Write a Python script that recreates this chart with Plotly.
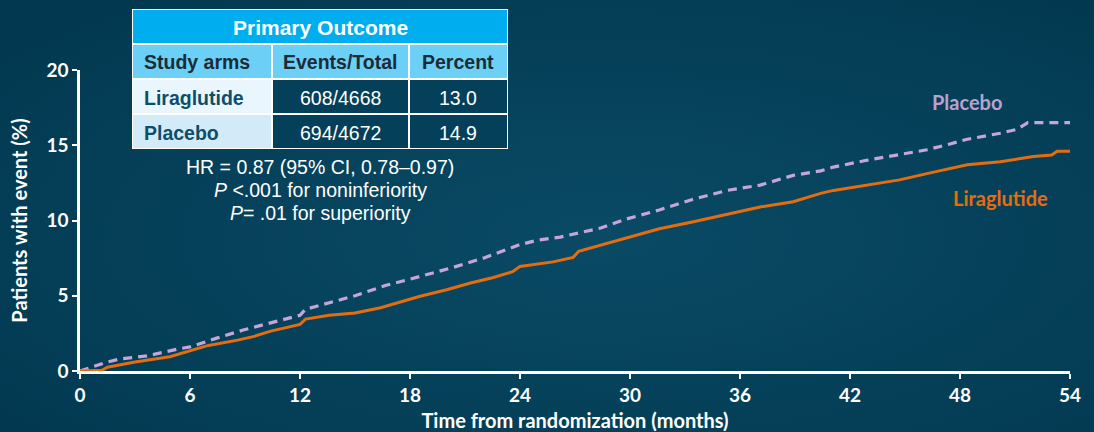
import base64
import plotly.graph_objects as go

# Cumulative incidence (%) by month since randomization
lira_months = [0, 1.2, 1.5, 3.0, 4.9, 6.0, 7.0, 8.6, 9.5, 10.4, 11.6, 12.0, 12.3, 13.6, 15.0,
               16.4, 18.5, 20.0, 21.3, 22.5, 23.6, 24.0, 25.8, 26.9, 27.2, 28.5, 29.8, 31.6,
               33.4, 35.3, 37.1, 38.9, 40.4, 41.1, 42.9, 44.7, 46.5, 48.4, 50.2, 52.0, 53.0,
               53.3, 54.0]
lira_pct = [0, 0.05, 0.25, 0.6, 0.95, 1.35, 1.7, 2.05, 2.3, 2.65, 3.0, 3.1, 3.45, 3.7, 3.85,
            4.2, 4.95, 5.4, 5.85, 6.2, 6.6, 6.95, 7.25, 7.55, 7.95, 8.4, 8.8, 9.45,
            9.9, 10.4, 10.9, 11.25, 11.8, 12.0, 12.35, 12.7, 13.2, 13.7, 13.9, 14.25, 14.35,
            14.6, 14.6]

placebo_months = [0, 0.7, 1.5, 2.2, 3.65, 5.3, 6.0, 7.5, 8.9, 10.4, 11.6, 12.0, 12.3, 13.3,
                  15.0, 16.7, 18.0, 20.4, 22.0, 24.0, 25.0, 26.2, 27.3, 28.4, 29.8, 31.6,
                  33.4, 35.3, 37.1, 38.9, 40.4, 41.1, 42.9, 44.7, 46.2, 47.5, 48.4, 50.2,
                  51.1, 51.7, 54.0]
placebo_pct = [0, 0.27, 0.6, 0.8, 1.0, 1.45, 1.6, 2.2, 2.72, 3.2, 3.6, 3.7, 4.1, 4.45,
               5.0, 5.7, 6.1, 6.9, 7.5, 8.4, 8.7, 8.9, 9.2, 9.5, 10.1, 10.7,
               11.4, 12.0, 12.35, 13.0, 13.3, 13.55, 14.0, 14.4, 14.7, 15.1, 15.4, 15.8,
               16.05, 16.5, 16.5]

x_ticks = [0, 6, 12, 18, 24, 30, 36, 42, 48, 54]
y_ticks = [0, 5, 10, 15, 20]

# Summary table contents
arms = ["Liraglutide", "Placebo"]
events = [608, 694]
totals = [4668, 4672]
percents = [13.0, 14.9]
table_title = "Primary Outcome"
col_headers = ["Study arms", "Events/Total", "Percent"]
stats_lines = ["HR = 0.87 (95% CI, 0.78–0.97)",
               "<i>P</i> <.001 for noninferiority",
               "<i>P</i>= .01 for superiority"]

ORANGE = "#e56d0f"
LAVENDER = "#c6a6d8"
BG = "#044059"
WHITE = "#ffffff"

W, H = 1094, 432
ML, MR, MT, MB = 80, 24, 70, 61
PW, PH = W - ML - MR, H - MT - MB


def px_x(px):
    return (px - ML) / PW


def px_y(py):
    return (H - MB - py) / PH


fig = go.Figure()
fig.add_trace(go.Scatter(x=placebo_months, y=placebo_pct, mode="lines", name="Placebo",
                         line=dict(color=LAVENDER, width=3.2, dash="9px,6px")))
fig.add_trace(go.Scatter(x=lira_months, y=lira_pct, mode="lines", name="Liraglutide",
                         line=dict(color=ORANGE, width=3)))

# Soft radial background
svg = f"""<svg xmlns='http://www.w3.org/2000/svg' width='{W}' height='{H}'>
<defs><radialGradient id='g' cx='55%' cy='55%' r='70%'>
<stop offset='0%' stop-color='#0a4a65'/><stop offset='100%' stop-color='#023951'/>
</radialGradient></defs><rect width='100%' height='100%' fill='url(#g)'/></svg>"""
src = "data:image/svg+xml;base64," + base64.b64encode(svg.encode()).decode()

shapes = []
annotations = []
TFONT = "Liberation Sans"

# Table geometry (pixels)
tx0, tx1 = 133, 507
cols = [133, 272, 409, 507]
rows = [(10, 43), (45, 78), (80, 113), (115, 148)]
label_fills = ["#eaf6fd", "#d3ebf8"]

shapes.append(dict(type="rect", xref="paper", yref="paper", x0=px_x(tx0 - 1), x1=px_x(tx1 + 1),
                   y0=px_y(149), y1=px_y(9), fillcolor=WHITE, line=dict(width=0), layer="above"))
shapes.append(dict(type="rect", xref="paper", yref="paper", x0=px_x(tx0), x1=px_x(tx1),
                   y0=px_y(rows[0][1]), y1=px_y(rows[0][0]), fillcolor="#00adee",
                   line=dict(width=0), layer="above"))
annotations.append(dict(xref="paper", yref="paper", x=px_x((tx0 + tx1) / 2), y=px_y(27),
                        text=f"<b>{table_title}</b>", showarrow=False, xanchor="center",
                        yanchor="middle", font=dict(family=TFONT, size=21, color=WHITE)))
for ci, head in enumerate(col_headers):
    shapes.append(dict(type="rect", xref="paper", yref="paper", x0=px_x(cols[ci] + (0 if ci == 0 else 1)),
                       x1=px_x(cols[ci + 1] - (0 if ci == 2 else 1)), y0=px_y(rows[1][1]),
                       y1=px_y(rows[1][0]), fillcolor="#6ccff5", line=dict(width=0), layer="above"))
    cx = cols[0] + 9 if ci == 0 else (cols[ci] + cols[ci + 1]) / 2
    annotations.append(dict(xref="paper", yref="paper", x=px_x(cx), y=px_y(62),
                            text=f"<b>{head}</b>", showarrow=False,
                            xanchor="left" if ci == 0 else "center", yanchor="middle",
                            font=dict(family=TFONT, size=19.5, color="#1b2c36")))
for ri, arm in enumerate(arms):
    r0, r1 = rows[2 + ri]
    cy = (r0 + r1) / 2 + 1
    cells = [arm, f"{events[ri]}/{totals[ri]}", f"{percents[ri]:.1f}"]
    for ci, txt in enumerate(cells):
        fill = label_fills[ri] if ci == 0 else BG
        shapes.append(dict(type="rect", xref="paper", yref="paper",
                           x0=px_x(cols[ci] + (0 if ci == 0 else 1)),
                           x1=px_x(cols[ci + 1] - (0 if ci == 2 else 1)),
                           y0=px_y(r1), y1=px_y(r0), fillcolor=fill, line=dict(width=0), layer="above"))
        if ci == 0:
            annotations.append(dict(xref="paper", yref="paper", x=px_x(cols[0] + 9), y=px_y(cy),
                                    text=f"<b>{txt}</b>", showarrow=False, xanchor="left",
                                    yanchor="middle",
                                    font=dict(family=TFONT, size=19.5, color="#0d4e6b")))
        else:
            annotations.append(dict(xref="paper", yref="paper", x=px_x((cols[ci] + cols[ci + 1]) / 2),
                                    y=px_y(cy), text=txt, showarrow=False, xanchor="center",
                                    yanchor="middle",
                                    font=dict(family=TFONT, size=19.5, color=WHITE)))

for i, line in enumerate(stats_lines):
    annotations.append(dict(xref="paper", yref="paper", x=px_x(320), y=px_y(167 + 23 * i),
                            text=line, showarrow=False, xanchor="center", yanchor="middle",
                            font=dict(family=TFONT, size=19.5, color=WHITE)))

# Series labels
annotations.append(dict(x=48.4, y=17.9, text="<b>Placebo</b>", showarrow=False,
                        xanchor="center", yanchor="middle",
                        font=dict(family="Lato", size=20, color="#b9a2d0")))
annotations.append(dict(x=50.2, y=11.5, text="<b>Liraglutide</b>", showarrow=False,
                        xanchor="center", yanchor="middle",
                        font=dict(family="Lato", size=20, color=ORANGE)))

axis_font = dict(family="Lato", size=19, color=WHITE, weight="bold")
fig.update_layout(
    width=W, height=H,
    margin=dict(l=ML, r=MR, t=MT, b=MB),
    paper_bgcolor=BG, plot_bgcolor="rgba(0,0,0,0)",
    showlegend=False,
    shapes=shapes, annotations=annotations,
    images=[dict(source=src, xref="paper", yref="paper", x=px_x(0), y=px_y(0),
                 sizex=W / PW, sizey=H / PH, sizing="stretch", xanchor="left",
                 yanchor="top", layer="below")],
    xaxis=dict(range=[0, 54], tickvals=x_ticks, ticks="outside", ticklen=5, tickwidth=2,
               tickcolor=WHITE, showline=True, linecolor=WHITE, linewidth=2.5,
               showgrid=False, zeroline=False, tickfont=axis_font, automargin=False,
               title=dict(text="Time from randomization (months)", standoff=10,
                          font=dict(family="Lato", size=20, color=WHITE, weight="bold"))),
    yaxis=dict(range=[0, 20], tickvals=y_ticks, ticks="outside", ticklen=5, tickwidth=2,
               tickcolor=WHITE, showline=True, linecolor=WHITE, linewidth=2.5,
               showgrid=False, zeroline=False, tickfont=axis_font, automargin=False,
               title=dict(text="Patients with event (%)", standoff=14,
                          font=dict(family="Lato", size=20, color=WHITE, weight="bold"))),
)

fig.write_html("out.html")
